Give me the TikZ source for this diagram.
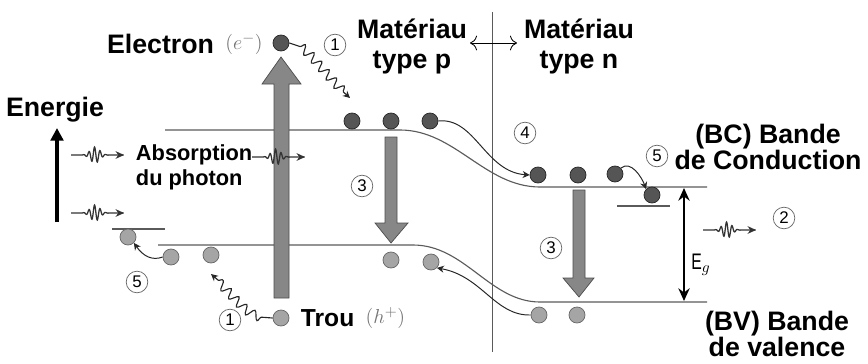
\documentclass[tikz,border=0pt]{standalone}
\usepackage{fontspec}
\setmainfont{Liberation Sans}
\usetikzlibrary{arrows.meta, positioning, decorations.pathmorphing}
\definecolor{bandgray}{RGB}{90,90,90}
\definecolor{elecgray}{RGB}{85,85,85}
\definecolor{holegray}{RGB}{165,165,165}
\definecolor{arrowgray}{RGB}{135,135,135}

\begin{document}
\begin{tikzpicture}[x=0.025cm, y=-0.025cm,
    elec/.style={circle, draw=black!85, fill=elecgray, minimum size=0.4cm, inner sep=0pt, line width=0.5pt},
    hole/.style={circle, draw=black!60, fill=holegray, minimum size=0.4cm, inner sep=0pt, line width=0.5pt},
    num/.style={circle, draw=black!60, line width=0.5pt, minimum size=0.54cm, inner sep=0pt, font=\fontsize{12}{12}\selectfont},
    big/.style={font=\fontsize{19}{21.3}\selectfont\bfseries},
    band/.style={draw=bandgray, line width=0.8pt},
    flow/.style={-{Stealth[length=5pt,width=5pt]}, line width=0.7pt, black!85},
    wavy/.style={flow, line width=0.8pt, decorate, decoration={snake, amplitude=3.2pt, segment length=8pt, pre length=8pt, post length=5pt}},
    fat/.style={fill=arrowgray, draw=black!70, line width=0.5pt},
    photon/.pic={\draw[-{Stealth[length=6pt,width=5.5pt]}, line width=0.9pt, black!80]
        plot[domain=0:53, samples=150] (\x, {-8*exp(-((\x-24)/6.5)^2)*sin(65*\x)});}
]
\useasboundingbox (0,0) rectangle (868,363);

% bands and junction
\draw[band] (165,130) -- (400,130) .. controls (455,130) and (485,187) .. (540,187) -- (707,187);
\draw[band] (158,245) -- (413,245) .. controls (465,245) and (490,302) .. (540,302) -- (707,302);
\draw[band] (112,229) -- (165,229);
\draw[band] (617,206) -- (670,206);
\draw[bandgray, line width=0.6pt] (492,12) -- (492,352);

% absorption and relaxation arrows
\draw[fat] (274,298) -- (274,84) -- (262,84) -- (281,57) -- (301,84) -- (289,84) -- (289,298) -- cycle;
\draw[fat] (385,137) -- (397,137) -- (397,223) -- (408,223) -- (391,243) -- (375,223) -- (385,223) -- cycle;
\draw[fat] (573,190) -- (585,190) -- (585,278) -- (594,278) -- (579,297) -- (563,278) -- (573,278) -- cycle;

% electrons
\node[elec] (e0) at (281,43) {};
\foreach \n/\x/\y in {1/352/121, 2/391/121, 3/430/121, 4/538/175, 5/578/175, 6/615/174, 7/652/195}
    \node[elec] (e\n) at (\x,\y) {};

% holes
\node[hole] (ht) at (281,318) {};
\node[hole] (hd) at (128,237) {};
\foreach \n/\x/\y in {l1/171/257, l2/211/255, p1/391/260, p2/431/262, n1/539/315, n2/577/315}
    \node[hole] (h\n) at (\x,\y) {};

% transfers
\draw[flow] (e3.east) .. controls (475,117) and (485,172) .. (e4.west);
\draw[flow] (e6.north east) to[out=40, in=110] (e7.north west);
\draw[flow] (hn1.west) .. controls (495,316) and (482,276) .. (hp2.south east);
\draw[flow] (hl1.west) .. controls (152,261) and (143,256) .. (hd.south east);

% thermalisation
\coordinate (w1) at (350,98);
\coordinate (w2) at (211,274);
\draw[wavy] (e0.east) .. controls (305,42) and (318,70) .. (w1);
\draw[wavy] (ht.west) .. controls (248,320) and (242,300) .. (w2);

% photons
\pic at (71,155) {photon};
\pic at (252,157) {photon};
\pic at (71,213) {photon};
\pic at (703,230) {photon};

% energy axis
\node[big] (energie) at (55,110) {Energie};
\coordinate (ebase) at (57,222);
\coordinate (etop) at (57,128);
\draw[-{Triangle[length=9pt,width=9pt]}, line width=2.8pt] (ebase) -- (etop);

% gap
\coordinate (gtop) at (684,188);
\coordinate (gbot) at (684,301);
\draw[{Stealth[length=9pt,width=8pt]}-{Stealth[length=9pt,width=8pt]}, line width=1.8pt] (gtop) -- (gbot)
    node[pos=0.68, right=1pt, font=\fontsize{16}{16}\selectfont] {\scalebox{0.7}[1]{E}$_{g}$};

% junction arrow
\coordinate (jl) at (470,43);
\coordinate (jr) at (517,43);
\draw[{To[length=5pt]}-{To[length=5pt]}, line width=0.6pt] (jl) -- (jr);

% labels
\node[big, anchor=east] (electron) at (219,44) {Electron};
\node[right=1pt of electron, text=black!55, font=\fontsize{15}{15}\selectfont] (eminus) {$(e^{-})$};
\node[font=\fontsize{17.5}{17.5}\selectfont\bfseries, anchor=west] (trou) at (296,318) {Trou};
\node[right=1pt of trou, text=black!55, font=\fontsize{15}{15}\selectfont] (hplus) {$(h^{+})$};
\node[font=\fontsize{15.5}{17.8}\selectfont\bfseries, align=left, anchor=west] (absorb) at (131,167) {Absorption\\du photon};
\node[big, align=center] (matp) at (412,46) {Matériau\\type p};
\node[big, align=center] (matn) at (579,46) {Matériau\\type n};
\node[font=\fontsize{19}{18.5}\selectfont\bfseries, align=center] (bc) at (768,147) {(BC) Bande\\de Conduction};
\node[font=\fontsize{19}{18}\selectfont\bfseries, align=center] (bv) at (777,334) {(BV) Bande\\de valence};

% steps
\node[num] (n1a) at (335,45) {1};
\node[num] (n1b) at (230,320) {1};
\node[num] (n2) at (784,218) {2};
\node[num] (n3a) at (362,186) {3};
\node[num] (n3b) at (551,248) {3};
\node[num] (n4) at (525,133) {4};
\node[num] (n5a) at (657,156) {5};
\node[num] (n5b) at (137,282) {5};
\end{tikzpicture}
\end{document}
